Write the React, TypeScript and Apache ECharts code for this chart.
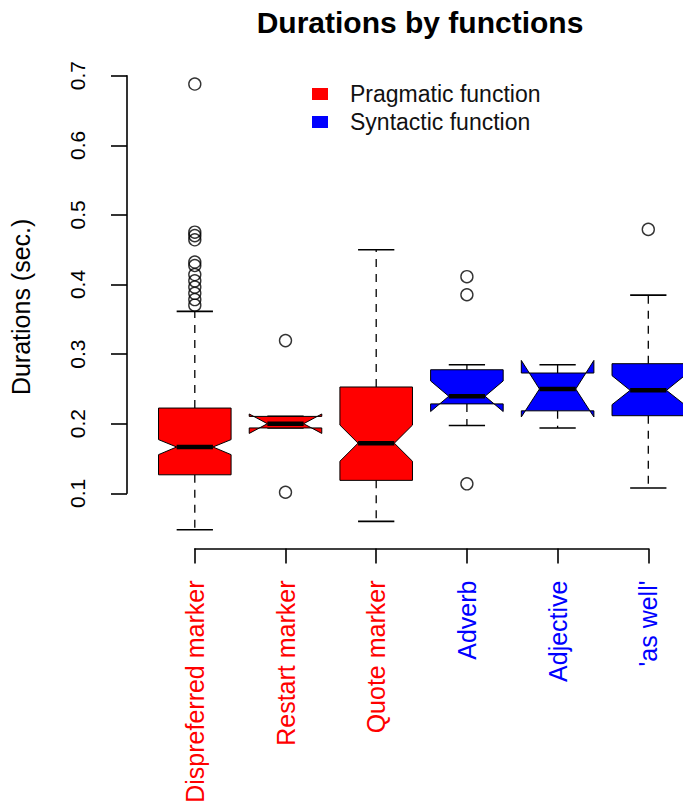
import React, { useEffect, useRef } from 'react';
import * as echarts from 'echarts';

// ---- data ----
const categories = ['Dispreferred marker', 'Restart marker', 'Quote marker', 'Adverb', 'Adjective', "'as well'"];
const categoryGroup = [0, 0, 0, 1, 1, 1];
const groupNames = ['Pragmatic function', 'Syntactic function'];

const whiskerLow = [0.047, 0.1934, 0.059, 0.197, 0.1934, 0.107];
const lowerHinge = [0.126, 0.1934, 0.118, 0.228, 0.218, 0.211];
const notchLow = [0.155, 0.1855, 0.1455, 0.217, 0.2092, 0.2269];
const median = [0.166, 0.1995, 0.1715, 0.239, 0.2494, 0.2475];
const notchHigh = [0.1766, 0.2135, 0.1975, 0.261, 0.2905, 0.2686];
const upperHinge = [0.222, 0.210, 0.2523, 0.2771, 0.2724, 0.2858];
const whiskerHigh = [0.361, 0.210, 0.4496, 0.2843, 0.2843, 0.3845];

const outliers: number[][] = [
  [0.688, 0.475, 0.470, 0.464, 0.432, 0.427, 0.414, 0.405, 0.396, 0.387, 0.378, 0.370],
  [0.319, 0.1009],
  [],
  [0.411, 0.385, 0.113],
  [],
  [0.479],
];

const yAxisMin = 0.1;
const yAxisMax = 0.7;
const yAxisStep = 0.1;

// ---- styles ----
const groupColors = ['#ff0000', '#0000ff'];
const FONT = "'Liberation Sans', Arial, Helvetica, sans-serif";

function renderBox(params: any, api: any) {
  const idx = api.value(0);
  const wl = api.value(1);
  const lh = api.value(2);
  const nl = api.value(3);
  const med = api.value(4);
  const nh = api.value(5);
  const uh = api.value(6);
  const wh = api.value(7);
  const cx = api.coord([idx, med])[0];
  const y = (v: number) => api.coord([idx, v])[1];
  const band = api.size([1, 0])[0];
  const hw = band * 0.4;
  const cap = hw / 2;
  const fill = api.visual('color');
  const dash = { stroke: '#000', lineWidth: 1.3, lineDash: [8, 7] };
  const solid = { stroke: '#000', lineWidth: 1.6 };
  return {
    type: 'group',
    children: [
      { type: 'line', shape: { x1: cx, y1: y(uh), x2: cx, y2: y(wh) }, style: dash },
      { type: 'line', shape: { x1: cx, y1: y(lh), x2: cx, y2: y(wl) }, style: dash },
      { type: 'line', shape: { x1: cx - cap, y1: y(wh), x2: cx + cap, y2: y(wh) }, style: solid },
      { type: 'line', shape: { x1: cx - cap, y1: y(wl), x2: cx + cap, y2: y(wl) }, style: solid },
      {
        type: 'polygon',
        shape: {
          points: [
            [cx - hw, y(lh)], [cx - hw, y(nl)], [cx - hw / 2, y(med)], [cx - hw, y(nh)], [cx - hw, y(uh)],
            [cx + hw, y(uh)], [cx + hw, y(nh)], [cx + hw / 2, y(med)], [cx + hw, y(nl)], [cx + hw, y(lh)],
          ],
        },
        style: { fill, stroke: '#000', lineWidth: 1 },
      },
      { type: 'line', shape: { x1: cx - hw / 2, y1: y(med), x2: cx + hw / 2, y2: y(med) }, style: { stroke: '#000', lineWidth: 4.5 } },
    ],
  };
}

export default function App() {
  const ref = useRef<HTMLDivElement>(null);
  useEffect(() => {
    if (!ref.current) return;
    const chart = echarts.init(ref.current, null, { renderer: 'svg' });

    const boxSeries = groupNames.map((name, g) => ({
      name,
      type: 'custom',
      xAxisIndex: 0,
      yAxisIndex: 0,
      clip: false,
      itemStyle: { color: groupColors[g] },
      encode: { x: 0, y: [1, 2, 3, 4, 5, 6, 7] },
      renderItem: renderBox,
      data: categories
        .map((_, i) => i)
        .filter((i) => categoryGroup[i] === g)
        .map((i) => [i, whiskerLow[i], lowerHinge[i], notchLow[i], median[i], notchHigh[i], upperHinge[i], whiskerHigh[i]]),
      z: 2,
    }));

    const outlierData: number[][] = [];
    outliers.forEach((arr, i) => arr.forEach((v) => outlierData.push([i, v])));

    chart.setOption({
      animation: false,
      textStyle: { fontFamily: FONT },
      title: {
        text: 'Durations by functions',
        left: 420,
        top: 7,
        padding: 0,
        textAlign: 'center',
        textStyle: { fontSize: 30, fontWeight: 'bold', color: '#000', fontFamily: FONT },
      },
      legend: {
        data: groupNames,
        orient: 'vertical',
        left: 312,
        top: 82.5,
        padding: 0,
        itemGap: 5,
        itemWidth: 16,
        itemHeight: 12,
        icon: 'rect',
        textStyle: { fontSize: 23, color: '#111', fontFamily: FONT, padding: [0, 0, 0, 17] },
      },
      grid: [
        { left: 194.3, right: 34.7, top: 65.3, bottom: 258.5 },
        { left: 127, width: 10, top: 75.7, bottom: 313.7 },
      ],
      xAxis: [
        {
          gridIndex: 0,
          type: 'category',
          data: categories,
          boundaryGap: false,
          axisLine: { lineStyle: { color: '#000', width: 1.6 } },
          axisTick: { length: 15, lineStyle: { color: '#000', width: 1.6 }, interval: 0 },
          axisLabel: {
            interval: 0,
            rotate: 90,
            margin: 32,
            fontSize: 25,
            fontFamily: FONT,
            color: (value: string) => groupColors[categoryGroup[categories.indexOf(value)]],
          },
        },
        { gridIndex: 1, type: 'category', data: [''], show: false },
      ],
      yAxis: [
        {
          gridIndex: 0,
          type: 'value',
          min: 0.02,
          max: 0.715,
          axisLine: { show: false },
          axisTick: { show: false },
          axisLabel: { show: false },
          splitLine: { show: false },
          name: 'Durations (sec.)',
          nameLocation: 'middle',
          nameGap: 161.8,
          nameTextStyle: { fontSize: 25, color: '#000', fontFamily: FONT },
        },
        {
          gridIndex: 1,
          type: 'value',
          min: yAxisMin,
          max: yAxisMax,
          interval: yAxisStep,
          axisLine: { show: true, lineStyle: { color: '#000', width: 1.6 } },
          axisTick: { show: true, length: 16, lineStyle: { color: '#000', width: 1.6 } },
          axisLabel: { rotate: 90, margin: 39.5, fontSize: 21, color: '#000', fontFamily: FONT },
          splitLine: { show: false },
        },
      ],
      series: [
        ...boxSeries,
        {
          name: 'outliers',
          type: 'scatter',
          xAxisIndex: 0,
          yAxisIndex: 0,
          clip: false,
          symbol: 'circle',
          symbolSize: 12,
          itemStyle: { color: 'rgba(0,0,0,0)', borderColor: '#000', borderWidth: 1.4 },
          data: outlierData,
          z: 3,
        },
      ],
    });
    return () => chart.dispose();
  }, []);
  return (
    <div
      ref={ref}
      style={{ position: 'absolute', left: 0, top: 0, width: '683px', height: '807px', background: '#fff' }}
    />
  );
}
